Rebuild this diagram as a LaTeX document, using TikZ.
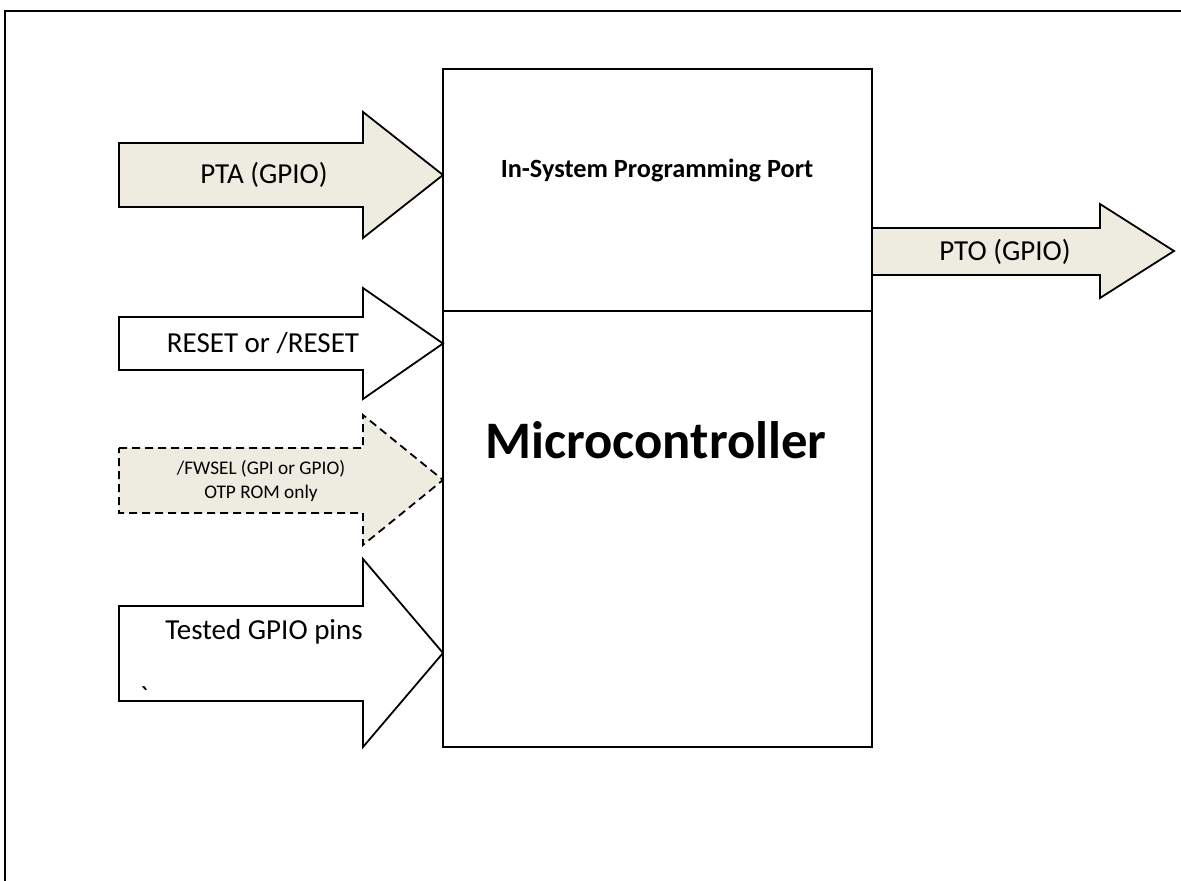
\documentclass[tikz,border=0pt]{standalone}
\usepackage{fontspec}
\setmainfont{Carlito}
\newfontfamily\rawfont[Ligatures=ResetAll]{Carlito}
\definecolor{tan}{HTML}{EEECE1}
\tikzset{
  blockarrow/.style={draw=black, line width=1.8pt, line join=miter},
  tanfill/.style={fill=tan},
  box/.style={draw=black, line width=2pt},
  lbl/.style={inner sep=0pt, font=\fontsize{29}{33}\selectfont},
  smalllbl/.style={inner sep=0pt, align=center, font=\fontsize{19.3}{23.5}\selectfont},
}
\begin{document}
\begin{tikzpicture}[x=1pt,y=-1pt]
\useasboundingbox (0,0) rectangle (1181,881);

% outer frame (top and left edges)
\draw[line width=2.5pt] (5,881) -- (5,11) -- (1181,11);

% microcontroller block with programming port on top
\draw[box] (443,69) rectangle (872,747);
\draw[box] (443,311) -- (872,311);
\node[inner sep=0pt, font=\fontsize{26.3}{30}\selectfont\bfseries] (isp) at (657,170) {In-System Programming Port};
\node[inner sep=0pt, font=\fontsize{52.7}{60}\selectfont\bfseries] (mcu) at (656,440) {Microcontroller};

% PTA input
\draw[blockarrow, tanfill] (119,143) -- (363,143) -- (363,112) -- (443,175) -- (363,238) -- (363,207) -- (119,207) -- cycle;
\node[lbl] (pta) at (264,175) {PTA (GPIO)};

% RESET input
\draw[blockarrow, fill=white] (119,317) -- (363,317) -- (363,288) -- (443,343.5) -- (363,399) -- (363,370) -- (119,370) -- cycle;
\node[lbl] (reset) at (263,343) {RESET or /RESET};

% firmware select input (optional)
\draw[blockarrow, tanfill, dash pattern=on 8pt off 5pt] (119,448) -- (363,448) -- (363,415) -- (443,480) -- (363,545) -- (363,513) -- (119,513) -- cycle;
\node[smalllbl] (fwsel) at (261,481) {/FWSEL (GPI or GPIO)\\OTP ROM only};

% tested GPIO pins input
\draw[blockarrow, fill=white] (119,606) -- (363,606) -- (363,559) -- (443,653) -- (363,747) -- (363,701) -- (119,701) -- cycle;
\node[lbl] (gpio) at (264,632) {Tested GPIO pins};
\node[inner sep=0pt, font=\rawfont\fontsize{29}{33}\selectfont] (tick) at (144,697) {`};

% PTO output
\draw[blockarrow, tanfill] (872,228) -- (1100,228) -- (1100,204) -- (1174,251) -- (1100,298) -- (1100,275) -- (872,275) -- cycle;
\node[lbl] (pto) at (1005,252) {PTO (GPIO)};
\end{tikzpicture}
\end{document}
